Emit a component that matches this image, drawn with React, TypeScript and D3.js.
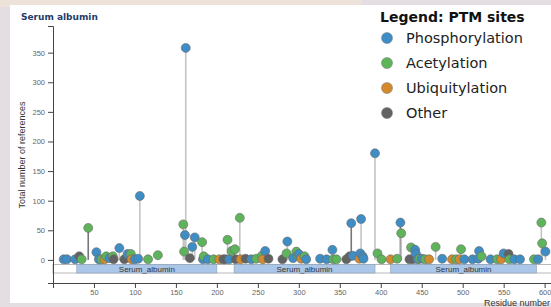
import React, { useEffect, useRef } from 'react';
import * as d3 from 'd3';

const proteinName = 'Serum albumin';
const proteinLength = 609;

const ptmTypes = ['Phosphorylation', 'Acetylation', 'Ubiquitylation', 'Other'];
const ptmColors = ['#3e8dc5', '#5db45b', '#d28a2c', '#626262'];

// P = phospho, A = acetyl, U = ubiquityl, O = other
const siteResidues = [
  13, 17, 27, 32, 35, 43, 53, 56, 59, 63, 65, 69, 73, 74, 81, 87, 91, 95, 96, 100,
  104, 106, 116, 128, 159, 160, 161, 162, 167, 170, 173, 182, 183, 184, 189, 196, 203, 208, 210, 213,
  215, 218, 222, 223, 228, 229, 235, 242, 248, 255, 256, 259, 263, 280, 285, 286, 293, 297, 299, 300,
  303, 307, 309, 326, 334, 341, 342, 346, 358, 362, 364, 366, 374, 375, 376, 378, 379, 393, 396, 401,
  412, 420, 424, 425, 435, 437, 439, 442, 443, 445, 447, 450, 454, 459, 467, 475, 487, 492, 496, 498,
  502, 512, 519, 520, 523, 534, 542, 547, 550, 556, 557, 563, 570, 587, 592, 596, 597, 601,
];
const siteCounts = [
  1, 1, 1, 6, 1, 54, 13, 1, 1, 1, 6, 3, 6, 1, 20, 1, 10, 10, 1, 1,
  2, 108, 1, 8, 60, 14, 42, 358, 3, 22, 38, 30, 1, 6, 1, 1, 1, 1, 1, 34,
  1, 15, 18, 1, 71, 1, 2, 1, 2, 7, 1, 15, 2, 1, 11, 31, 3, 14, 8, 10,
  2, 6, 1, 2, 1, 17, 1, 1, 1, 6, 62, 7, 2, 11, 69, 6, 2, 180, 11, 1,
  1, 2, 63, 45, 1, 21, 1, 17, 10, 1, 2, 2, 1, 1, 22, 2, 1, 1, 1, 18,
  1, 1, 2, 15, 6, 1, 1, 1, 11, 10, 1, 1, 1, 1, 1, 63, 28, 14,
];
const siteTypes = [
  'P', 'P', 'P', 'O', 'A', 'A', 'P', 'P', 'A', 'U', 'A', 'P', 'A', 'O', 'P', 'O', 'P', 'A', 'U', 'P',
  'P', 'P', 'A', 'A', 'A', 'A', 'P', 'P', 'O', 'P', 'P', 'A', 'P', 'A', 'P', 'A', 'U', 'O', 'O', 'A',
  'P', 'A', 'A', 'O', 'A', 'U', 'O', 'P', 'A', 'A', 'U', 'P', 'O', 'O', 'A', 'P', 'P', 'A', 'A', 'P',
  'U', 'A', 'P', 'P', 'P', 'P', 'A', 'A', 'O', 'O', 'P', 'P', 'U', 'P', 'P', 'P', 'P', 'P', 'A', 'A',
  'U', 'A', 'P', 'A', 'O', 'A', 'O', 'P', 'P', 'P', 'A', 'P', 'A', 'U', 'A', 'P', 'U', 'A', 'U', 'A',
  'P', 'P', 'P', 'P', 'A', 'P', 'A', 'U', 'P', 'O', 'A', 'P', 'P', 'A', 'P', 'A', 'A', 'P',
];
// sites with low-throughput references (darker stem)
const ltpSites = [43, 364, 424];

const domainNames = ['Serum_albumin', 'Serum_albumin', 'Serum_albumin'];
const domainStarts = [29, 221, 412];
const domainEnds = [200, 393, 590];

const xTickValues = d3.range(50, 601, 50);

const width = 551;
const height = 307;

const x = d3.scaleLinear().domain([0, proteinLength]).range([53, 552]);
const y = d3.scaleLinear().domain([-39, 395]).range([283, 26]);

const typeIndex: Record<string, number> = { P: 0, A: 1, U: 2, O: 3 };

const App = () => {
  const ref = useRef<SVGSVGElement>(null);

  useEffect(() => {
    const svg = d3.select(ref.current);
    svg.selectAll('*').remove();

    // page background (photo edge) + white panel
    svg.append('rect').attr('width', width).attr('height', height).attr('fill', '#e4dee3');
    svg.append('rect').attr('x', 0).attr('y', 0).attr('width', 362).attr('height', 7).attr('fill', '#ece2da');
    svg.append('rect').attr('x', 10).attr('y', 5).attr('width', width - 10).attr('height', 298).attr('fill', '#fff');

    // title
    svg
      .append('text')
      .attr('x', 21)
      .attr('y', 20)
      .style('font-family', 'DejaVu Sans')
      .style('font-weight', 'bold')
      .style('font-size', '9px')
      .attr('fill', '#1f3c6a')
      .text(proteinName);

    // domain track
    const track = svg.append('g');
    track
      .append('rect')
      .attr('x', x(0))
      .attr('y', 264.5)
      .attr('width', x(proteinLength) - x(0))
      .attr('height', 8.5)
      .attr('fill', '#fff')
      .attr('stroke', '#a8a8a8')
      .attr('stroke-width', 0.8);
    const doms = domainNames.map((n, i) => ({ name: n, start: domainStarts[i], end: domainEnds[i] }));
    track
      .selectAll('rect.dom')
      .data(doms)
      .enter()
      .append('rect')
      .classed('dom', true)
      .attr('x', d => x(d.start))
      .attr('y', 264.5)
      .attr('width', d => x(d.end) - x(d.start))
      .attr('height', 8.5)
      .attr('fill', '#aac6e9')
      .attr('stroke', '#8c9fb5')
      .attr('stroke-width', 0.6);
    track
      .selectAll('text.dom')
      .data(doms)
      .enter()
      .append('text')
      .attr('x', d => (x(d.start) + x(d.end)) / 2)
      .attr('y', 271.8)
      .attr('text-anchor', 'middle')
      .style('font-family', 'Liberation Sans')
      .style('font-size', '8px')
      .attr('fill', '#333')
      .text(d => d.name);

    // axes
    const yAxis = svg
      .append('g')
      .attr('transform', `translate(${x(0)},0)`)
      .call(d3.axisLeft(y).tickSize(5).tickSizeOuter(5));
    const xAxis = svg
      .append('g')
      .attr('transform', `translate(0,${y.range()[0]})`)
      .call(d3.axisBottom(x).tickValues(xTickValues).tickSize(5).tickSizeOuter(5).tickPadding(2));
    [yAxis, xAxis].forEach(g => {
      g.selectAll('path, line').attr('stroke', '#444');
      g.selectAll('text')
        .style('font-family', 'Liberation Sans')
        .style('font-size', '7.5px')
        .attr('fill', '#666');
    });

    svg
      .append('text')
      .attr('transform', 'translate(25,155) rotate(-90)')
      .attr('text-anchor', 'middle')
      .style('font-family', 'Liberation Sans')
      .style('font-size', '9px')
      .attr('fill', '#333')
      .text('Total number of references');
    svg
      .append('text')
      .attr('x', 550)
      .attr('y', 305.5)
      .attr('text-anchor', 'end')
      .style('font-family', 'Liberation Sans')
      .style('font-size', '9px')
      .attr('fill', '#333')
      .text('Residue number');

    // lollipops
    const sites = siteResidues.map((r, i) => ({
      residue: r,
      count: siteCounts[i],
      type: typeIndex[siteTypes[i]],
      ltp: ltpSites.includes(r),
    }));

    svg
      .append('g')
      .selectAll('line')
      .data(sites.filter(d => d.count > 2))
      .enter()
      .append('line')
      .attr('x1', d => x(d.residue))
      .attr('x2', d => x(d.residue))
      .attr('y1', y(0))
      .attr('y2', d => y(d.count))
      .attr('stroke', d => (d.ltp ? '#777' : '#c4c4c4'))
      .attr('stroke-width', 1.6);

    svg
      .append('g')
      .selectAll('circle')
      .data(sites)
      .enter()
      .append('circle')
      .attr('cx', d => x(d.residue))
      .attr('cy', d => y(d.count))
      .attr('r', 4.5)
      .attr('fill', d => ptmColors[d.type])
      .attr('stroke', '#6a6a6a')
      .attr('stroke-width', 0.6);

    // legend
    const legend = svg.append('g');
    legend
      .append('text')
      .attr('x', 380)
      .attr('y', 22)
      .style('font-family', 'DejaVu Sans')
      .style('font-weight', 'bold')
      .style('font-size', '14px')
      .attr('fill', '#111')
      .text('Legend: PTM sites');
    const item = legend
      .selectAll('g.item')
      .data(ptmTypes)
      .enter()
      .append('g')
      .attr('transform', (d, i) => `translate(387,${38 + i * 25})`);
    item
      .append('circle')
      .attr('r', 5.5)
      .attr('fill', (d, i) => ptmColors[i])
      .attr('stroke', '#777')
      .attr('stroke-width', 0.5);
    item
      .append('text')
      .attr('x', 19)
      .attr('y', 5)
      .style('font-family', 'DejaVu Sans')
      .style('font-size', '14.5px')
      .attr('fill', '#222')
      .text(d => d);
  }, []);

  return (
    <svg
      ref={ref}
      width={width}
      height={height}
      style={{ position: 'absolute', left: 0, top: 0 }}
    />
  );
};

export default App;
